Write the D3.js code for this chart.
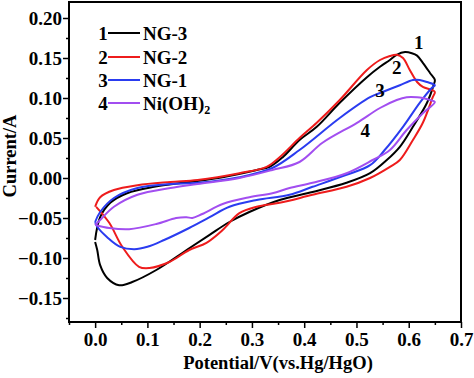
<!DOCTYPE html>
<html><head><meta charset="utf-8">
<script src="https://cdn.jsdelivr.net/npm/d3@7"></script>
<style>
html,body{margin:0;padding:0;background:#fff;}
svg{display:block;}
text{font-family:"Liberation Serif","Times New Roman",serif;font-weight:bold;fill:#000;}
</style></head>
<body><svg id="chart" width="474" height="378"></svg>
<script>
// ---- data (potential V, current A) ----
const xTicks = [0.0, 0.1, 0.2, 0.3, 0.4, 0.5, 0.6, 0.7];
const yTicks = [-0.15, -0.10, -0.05, 0.00, 0.05, 0.10, 0.15, 0.20];
const seriesNames = ["NG-3", "NG-2", "NG-1", "Ni(OH)2"];
const seriesColors = ["#000000", "#ee1c1c", "#2a3cf0", "#a24ef0"];

const ng3 = [
  [0,-0.0775],[0.0096,-0.049],[0.029,-0.031],[0.061,-0.019],[0.113,-0.011],[0.18,-0.005],
  [0.244,0.001],[0.309,0.01],[0.334,0.014],[0.359,0.026],[0.391,0.0475],[0.424,0.064],
  [0.468,0.094],[0.52,0.126],[0.545,0.139],[0.564,0.1475],[0.577,0.154],[0.593,0.1575],
  [0.606,0.156],[0.616,0.153],[0.627,0.144],[0.641,0.131],[0.65,0.1225],
  [0.648,0.117],[0.635,0.094],[0.608,0.064],[0.583,0.039],[0.558,0.0225],[0.526,0.006],
  [0.481,-0.006],[0.416,-0.0175],[0.353,-0.0275],[0.295,-0.0425],[0.257,-0.055],
  [0.219,-0.071],[0.175,-0.09],[0.117,-0.115],[0.071,-0.13],[0.046,-0.134],[0.023,-0.125],
  [0.0096,-0.109],[0.004,-0.09],[0,-0.08]
];
const ng2 = [
  [0,-0.036],[0.0096,-0.024],[0.036,-0.015],[0.081,-0.009],[0.144,-0.005],[0.196,-0.0025],
  [0.276,0.006],[0.328,0.014],[0.353,0.026],[0.391,0.05],[0.424,0.069],[0.468,0.0975],
  [0.52,0.135],[0.545,0.1475],[0.564,0.1525],[0.577,0.154],[0.589,0.15],[0.602,0.135],
  [0.616,0.12],[0.627,0.114],[0.644,0.11],[0.65,0.1075],
  [0.646,0.101],[0.627,0.069],[0.608,0.0475],[0.583,0.0225],[0.564,0.014],[0.526,0],
  [0.481,-0.011],[0.416,-0.021],[0.353,-0.031],[0.309,-0.036],[0.276,-0.044],[0.244,-0.065],
  [0.213,-0.081],[0.18,-0.09],[0.142,-0.105],[0.104,-0.1125],[0.084,-0.111],[0.052,-0.086],
  [0.027,-0.056],[0.002,-0.036]
];
const ng1 = [
  [0,-0.055],[0.0096,-0.0425],[0.036,-0.025],[0.081,-0.0125],[0.144,-0.0075],[0.196,-0.006],
  [0.276,0.001],[0.339,0.0125],[0.391,0.035],[0.468,0.075],[0.526,0.101],[0.55,0.1075],
  [0.583,0.116],[0.608,0.1225],[0.621,0.1225],[0.635,0.12],[0.65,0.116],
  [0.644,0.1125],[0.621,0.094],[0.589,0.064],[0.554,0.035],[0.526,0.016],[0.481,0.004],
  [0.416,-0.011],[0.372,-0.021],[0.309,-0.0275],[0.257,-0.036],[0.219,-0.049],[0.18,-0.0625],
  [0.132,-0.0775],[0.1,-0.086],[0.075,-0.089],[0.048,-0.086],[0.023,-0.074],[0.004,-0.061],[0,-0.055]
];
const nioh2 = [
  [0,-0.059],[0.0096,-0.0525],[0.036,-0.036],[0.081,-0.021],[0.144,-0.0125],[0.196,-0.0075],
  [0.276,0],[0.339,0.01],[0.391,0.02],[0.435,0.044],[0.501,0.069],[0.545,0.0875],
  [0.577,0.0975],[0.596,0.101],[0.616,0.101],[0.627,0.1],[0.641,0.0975],[0.65,0.095],
  [0.627,0.081],[0.596,0.06],[0.564,0.035],[0.531,0.0225],[0.481,0.006],[0.416,-0.006],
  [0.372,-0.0125],[0.339,-0.019],[0.295,-0.024],[0.244,-0.0325],[0.205,-0.045],[0.186,-0.05],
  [0.175,-0.049],[0.155,-0.05],[0.117,-0.0575],[0.065,-0.064],[0.027,-0.0625],[0.002,-0.059]
];
const curveData = [ng3, ng2, ng1, nioh2];
const curveLabels = ["1", "2", "3", "4"];
const curveLabelPos = [[0.619, 0.169], [0.577, 0.138], [0.545, 0.110], [0.517, 0.060]];

// ---- layout ----
const svg = d3.select("#chart");
const L = 69, R = 461, T = 2, B = 322;
const FS = 19;
const x = d3.scaleLinear().domain([-0.05, 0.7]).range([L, R]);
const y = d3.scaleLinear().domain([-0.18, 0.22]).range([B, T]);

svg.append("defs").append("clipPath").attr("id","clip")
  .append("rect").attr("x",L).attr("y",T).attr("width",R-L).attr("height",B-T);

const line = d3.line().x(d=>x(d[0])).y(d=>y(d[1])).curve(d3.curveCatmullRom.alpha(0.5));

const g = svg.append("g").attr("clip-path","url(#clip)");
curveData.forEach((d,i)=>{
  g.append("path").attr("d", line(d)).attr("fill","none")
    .attr("stroke", seriesColors[i]).attr("stroke-width", 2).attr("stroke-linejoin","round");
});

// curve number labels
curveLabels.forEach((t,i)=>{
  svg.append("text").attr("x", x(curveLabelPos[i][0])).attr("y", y(curveLabelPos[i][1]))
    .attr("text-anchor","middle").attr("dy","0.35em").attr("font-size",FS).text(t);
});

// axes
const fmtX = d3.format(".1f"), fmtY = d3.format(".2f");
const xAxis = d3.axisBottom(x).tickValues(xTicks).tickSize(6).tickFormat(fmtX).tickPadding(5);
const yAxis = d3.axisLeft(y).tickValues(yTicks).tickSize(6).tickFormat(fmtY).tickPadding(1);
const xMinor = d3.range(-0.05, 0.701, 0.1).map(v=>+v.toFixed(2));
const yMinor = d3.range(-0.175, 0.22, 0.05).map(v=>+v.toFixed(3));

const gx = svg.append("g").attr("transform",`translate(0,${B})`).call(xAxis);
svg.append("g").attr("transform",`translate(0,${B})`)
  .call(d3.axisBottom(x).tickValues(xMinor).tickSize(3).tickFormat(""))
  .call(s=>s.select(".domain").remove());
const gy = svg.append("g").attr("transform",`translate(${L},0)`).call(yAxis);
svg.append("g").attr("transform",`translate(${L},0)`)
  .call(d3.axisLeft(y).tickValues(yMinor).tickSize(3).tickFormat(""))
  .call(s=>s.select(".domain").remove());

svg.selectAll(".tick line").attr("stroke","#000").attr("stroke-width",1.5);
gx.selectAll(".tick text").attr("font-size",FS).attr("font-family","Liberation Serif").attr("font-weight","bold");
gy.selectAll(".tick text").attr("font-size",FS).attr("font-family","Liberation Serif").attr("font-weight","bold");
svg.selectAll(".domain").remove();

// frame
svg.append("rect").attr("x",L).attr("y",T).attr("width",R-L).attr("height",B-T)
  .attr("fill","none").attr("stroke","#000").attr("stroke-width",2);

// axis titles
svg.append("text").attr("x", 278).attr("y", 369).attr("text-anchor","middle")
  .attr("font-size",18.5).text("Potential/V(vs.Hg/HgO)");
svg.append("text").attr("transform","translate(16,156) rotate(-90)").attr("text-anchor","middle")
  .attr("font-size",18.5).text("Current/A");

// legend
const legRows = [33, 57, 80, 103];
seriesNames.forEach((n,i)=>{
  const ly = legRows[i];
  svg.append("text").attr("x",103).attr("y",ly).attr("dy","0.35em").attr("text-anchor","middle")
    .attr("font-size",FS).text(curveLabels[i]);
  svg.append("line").attr("x1",108).attr("x2",140).attr("y1",ly).attr("y2",ly)
    .attr("stroke",seriesColors[i]).attr("stroke-width",2);
  const t = svg.append("text").attr("x",143).attr("y",ly).attr("dy","0.35em").attr("font-size",FS);
  if (n === "Ni(OH)2") {
    t.append("tspan").text("Ni(OH)");
    t.append("tspan").attr("font-size",12).attr("dy","0.35em").text("2");
  } else t.text(n);
});
</script></body></html>
